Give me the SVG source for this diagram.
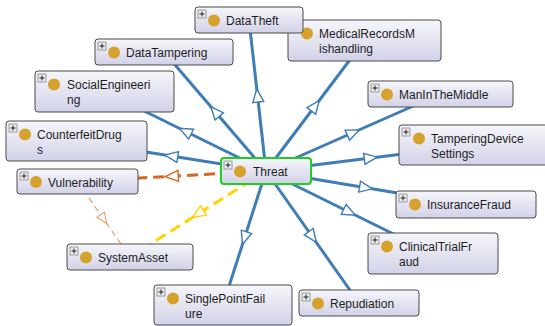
<svg xmlns="http://www.w3.org/2000/svg" width="545" height="326" viewBox="0 0 545 326">
<style>
.bg{fill:#ffffff}
.box{fill:url(#g);stroke:#4a4a4a;stroke-width:1}
.sel{fill:url(#g);stroke:#22cc22;stroke-width:2}
.dot{fill:#d6a22e}
.pl{fill:#ececec;stroke:#8a8a8a;stroke-width:0.8}
.pls{stroke:#222;stroke-width:1}
.t{font-family:"Liberation Sans",Arial,sans-serif;font-size:12px;fill:#1e1e1e}
.e{fill:none;stroke:#3e7db5;stroke-width:3;marker-mid:url(#ab)}
.eo{fill:none;stroke:#d9651e;stroke-width:3;stroke-dasharray:11 6;marker-mid:url(#ao)}
.ey{fill:none;stroke:#ffd200;stroke-width:3;stroke-dasharray:11 6;marker-mid:url(#ay)}
.ev{fill:none;stroke:#e2a06c;stroke-width:1.2;stroke-dasharray:6 4;marker-mid:url(#av)}
</style>
<defs>
<linearGradient id="g" x1="0" y1="0" x2="0" y2="1">
<stop offset="0" stop-color="#f6f6fb"/>
<stop offset="1" stop-color="#d2d2e8"/>
</linearGradient>
<marker id="ab" markerUnits="userSpaceOnUse" markerWidth="20" markerHeight="20" refX="10" refY="10" orient="auto" viewBox="0 0 20 20"><path d="M3.5,4.5 L16.5,10 L3.5,15.5 Z" fill="#fff" stroke="#3e7db5" stroke-width="1.4"/></marker>
<marker id="ao" markerUnits="userSpaceOnUse" markerWidth="20" markerHeight="20" refX="10" refY="10" orient="auto" viewBox="0 0 20 20"><path d="M3.5,4.5 L16.5,10 L3.5,15.5 Z" fill="#fff" stroke="#d9651e" stroke-width="1.4"/></marker>
<marker id="ay" markerUnits="userSpaceOnUse" markerWidth="20" markerHeight="20" refX="10" refY="10" orient="auto" viewBox="0 0 20 20"><path d="M3.5,4.5 L16.5,10 L3.5,15.5 Z" fill="#fff" stroke="#ffd200" stroke-width="1.4"/></marker>
<marker id="av" markerUnits="userSpaceOnUse" markerWidth="20" markerHeight="20" refX="10" refY="10" orient="auto" viewBox="0 0 20 20"><path d="M4.5,5.5 L15.5,10 L4.5,14.5 Z" fill="#fff" stroke="#e2a06c" stroke-width="1.1"/></marker>
</defs>
<rect class="bg" x="0" y="0" width="545" height="326"/>
<g id="connectors">
<path class="e" d="M266,171 L257.5,95.5 L249,20"/>
<path class="e" d="M266,171 L315.25,105.75 L364.5,40.5"/>
<path class="e" d="M266,171 L353.25,132.5 L440.5,94"/>
<path class="e" d="M266,171 L370.75,158 L475.5,145"/>
<path class="e" d="M266,171 L366,187.75 L466,204.5"/>
<path class="e" d="M266,171 L349.5,212.25 L433,253.5"/>
<path class="e" d="M266,171 L312.5,237 L359,303"/>
<path class="e" d="M266,171 L244.5,238 L223,305"/>
<path class="e" d="M266,171 L171.25,156 L76.5,141"/>
<path class="e" d="M266,171 L185.25,131.25 L104.5,91.5"/>
<path class="e" d="M266,171 L215,111.5 L164,52"/>
<path class="ev" d="M77.5,181.5 L103.75,219.25 L130,257"/>
<path class="ey" d="M266,171 L198,214 L130,257"/>
<path class="eo" d="M266,171 L171.75,176.25 L77.5,181.5"/>
</g>
<g id="MedicalRecordsMishandling">
<rect class="box" x="288" y="20" width="153" height="41" rx="3"/>
<rect class="pl" x="291" y="23" width="8" height="8"/>
<circle class="dot" cx="307" cy="33.5" r="6"/>
<text class="t" x="319" y="38">MedicalRecordsM</text>
<text class="t" x="319" y="53">ishandling</text>
</g>
<g id="DataTheft">
<rect class="box" x="195" y="7" width="108" height="26" rx="3"/>
<rect class="pl" x="198" y="10" width="8" height="8"/><path class="pls" d="M199.5,14 h5 M202,11.5 v5"/>
<circle class="dot" cx="214" cy="20.5" r="6"/>
<text class="t" x="226" y="25">DataTheft</text>
</g>
<g id="DataTampering">
<rect class="box" x="95" y="39" width="138" height="26" rx="3"/>
<rect class="pl" x="98" y="42" width="8" height="8"/><path class="pls" d="M99.5,46 h5 M102,43.5 v5"/>
<circle class="dot" cx="114" cy="52.5" r="6"/>
<text class="t" x="126" y="57">DataTampering</text>
</g>
<g id="SocialEngineering">
<rect class="box" x="35" y="71" width="139" height="41" rx="3"/>
<rect class="pl" x="38" y="74" width="8" height="8"/><path class="pls" d="M39.5,78 h5 M42,75.5 v5"/>
<circle class="dot" cx="54" cy="84.5" r="6"/>
<text class="t" x="67" y="89">SocialEngineeri</text>
<text class="t" x="67" y="104">ng</text>
</g>
<g id="CounterfeitDrugs">
<rect class="box" x="6" y="121" width="141" height="40" rx="3"/>
<rect class="pl" x="9" y="124" width="8" height="8"/><path class="pls" d="M10.5,128 h5 M13,125.5 v5"/>
<circle class="dot" cx="25" cy="134.5" r="6"/>
<text class="t" x="37" y="139">CounterfeitDrug</text>
<text class="t" x="37" y="154">s</text>
</g>
<g id="Vulnerability">
<rect class="box" x="17" y="169" width="121" height="25" rx="3"/>
<rect class="pl" x="20" y="172" width="8" height="8"/><path class="pls" d="M21.5,176 h5 M24,173.5 v5"/>
<circle class="dot" cx="36" cy="182" r="6"/>
<text class="t" x="48" y="186.5">Vulnerability</text>
</g>
<g id="SystemAsset">
<rect class="box" x="67" y="244" width="126" height="26" rx="3"/>
<rect class="pl" x="70" y="247" width="8" height="8"/><path class="pls" d="M71.5,251 h5 M74,248.5 v5"/>
<circle class="dot" cx="86" cy="257.5" r="6"/>
<text class="t" x="98" y="262">SystemAsset</text>
</g>
<g id="SinglePointFailure">
<rect class="box" x="154" y="285" width="138" height="40" rx="3"/>
<rect class="pl" x="157" y="288" width="8" height="8"/><path class="pls" d="M158.5,292 h5 M161,289.5 v5"/>
<circle class="dot" cx="173" cy="298.5" r="6"/>
<text class="t" x="185" y="303">SinglePointFail</text>
<text class="t" x="185" y="318">ure</text>
</g>
<g id="Repudiation">
<rect class="box" x="299" y="290" width="120" height="26" rx="3"/>
<rect class="pl" x="302" y="293" width="8" height="8"/><path class="pls" d="M303.5,297 h5 M306,294.5 v5"/>
<circle class="dot" cx="318" cy="303.5" r="6"/>
<text class="t" x="330" y="308">Repudiation</text>
</g>
<g id="ClinicalTrialFraud">
<rect class="box" x="368" y="233" width="130" height="41" rx="3"/>
<rect class="pl" x="371" y="236" width="8" height="8"/><path class="pls" d="M372.5,240 h5 M375,237.5 v5"/>
<circle class="dot" cx="387" cy="246.5" r="6"/>
<text class="t" x="399" y="251">ClinicalTrialFr</text>
<text class="t" x="399" y="266">aud</text>
</g>
<g id="InsuranceFraud">
<rect class="box" x="396" y="191" width="140" height="27" rx="3"/>
<rect class="pl" x="399" y="194" width="8" height="8"/><path class="pls" d="M400.5,198 h5 M403,195.5 v5"/>
<circle class="dot" cx="415" cy="204.5" r="6"/>
<text class="t" x="427" y="209">InsuranceFraud</text>
</g>
<g id="TamperingDeviceSettings">
<rect class="box" x="399" y="125" width="153" height="40" rx="3"/>
<rect class="pl" x="402" y="128" width="8" height="8"/><path class="pls" d="M403.5,132 h5 M406,129.5 v5"/>
<circle class="dot" cx="419" cy="138.5" r="6"/>
<text class="t" x="431" y="143">TamperingDevice</text>
<text class="t" x="431" y="158">Settings</text>
</g>
<g id="ManInTheMiddle">
<rect class="box" x="368" y="81" width="145" height="26" rx="3"/>
<rect class="pl" x="371" y="84" width="8" height="8"/><path class="pls" d="M372.5,88 h5 M375,85.5 v5"/>
<circle class="dot" cx="387" cy="94.5" r="6"/>
<text class="t" x="399" y="99">ManInTheMiddle</text>
</g>
<g id="Threat">
<rect class="sel" x="221" y="158" width="90" height="26" rx="3"/>
<rect class="pl" x="224" y="161" width="8" height="8"/><path class="pls" d="M225.5,165 h5 M228,162.5 v5"/>
<circle class="dot" cx="240" cy="171.5" r="6"/>
<text class="t" x="253" y="176">Threat</text>
</g>
</svg>
